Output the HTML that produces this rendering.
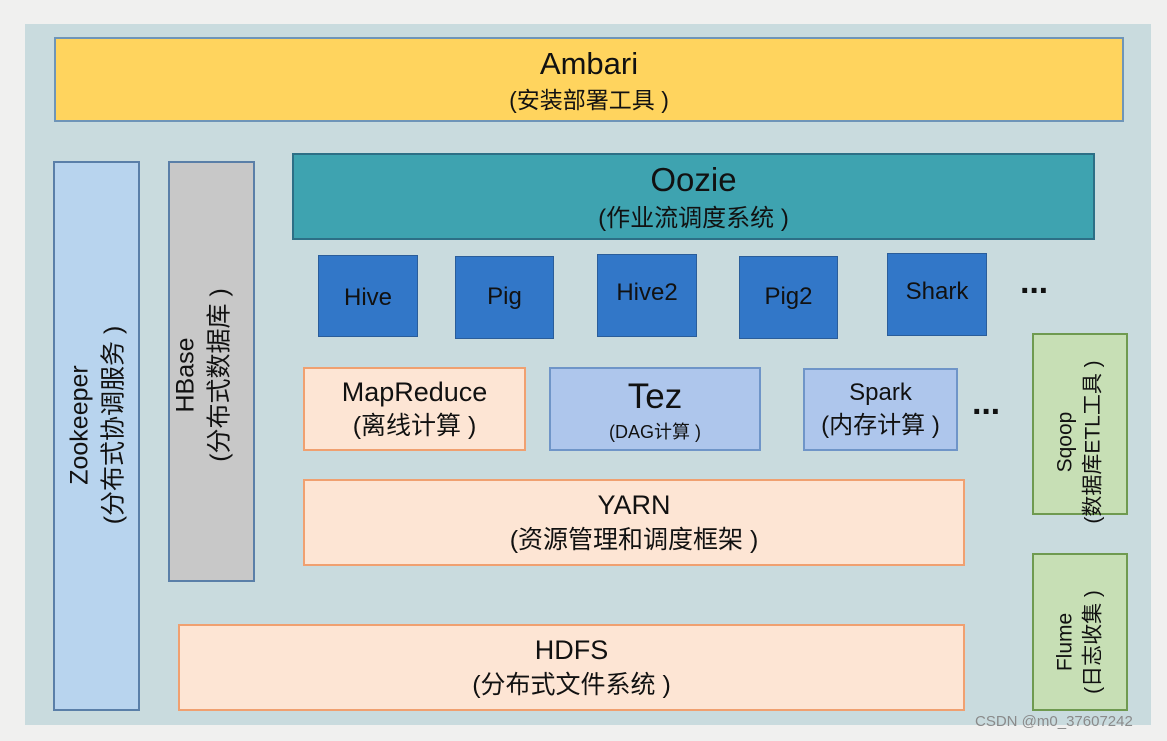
<!DOCTYPE html>
<html><head><meta charset="utf-8"><style>
body{margin:0;width:1167px;height:741px;background:#f0f0ef;position:relative;overflow:hidden;font-family:"Liberation Sans","Noto Sans CJK SC",sans-serif;color:#111}
.b{position:absolute;box-sizing:border-box;display:flex;flex-direction:column;align-items:center;justify-content:center;text-align:center;line-height:1.35}
.v{position:absolute;white-space:nowrap;transform:translate(-50%,-50%) rotate(-90deg);text-align:center;line-height:1.35}
.blue{background:#3277c8;border:1.5px solid #2a5d9a;font-size:24px;color:#111}
.pe{background:#fde5d4;border:2px solid #f0a070}
.lb{background:#aec6ec;border:2px solid #6f95c8}
.gr{background:#c7dfb5;border:2px solid #6f9a50}
.dots{position:absolute;font-size:34px;font-weight:bold;letter-spacing:-2px}
</style></head><body>
<div style="position:absolute;left:25px;top:24px;width:1126px;height:701px;background:#c9dbde"></div>
<div class="b" style="left:54px;top:37px;width:1070px;height:85px;background:#ffd45e;border:2px solid #6f95b8"><div style="font-size:31px">Ambari</div><div style="font-size:23px">(安装部署工具 )</div></div>
<div class="b" style="left:53px;top:161px;width:87px;height:550px;background:#b8d4ee;border:2px solid #5a7fa8"></div>
<div class="v" style="left:97px;top:425px;font-size:25px">Zookeeper<br>(分布式协调服务 )</div>
<div class="b" style="left:168px;top:161px;width:87px;height:421px;background:#c8c8c8;border:2px solid #5a7fa8"></div>
<div class="v" style="left:203px;top:375px;font-size:25px">HBase<br>(分布式数据库 )</div>
<div class="b" style="left:292px;top:153px;width:803px;height:87px;background:#3ea3b0;border:2px solid #2d6f86"><div style="font-size:33px">Oozie</div><div style="font-size:24px">(作业流调度系统 )</div></div>
<div class="b blue" style="left:318px;top:255px;width:100px;height:82px;padding-top:4px">Hive</div>
<div class="b blue" style="left:455px;top:256px;width:99px;height:83px">Pig</div>
<div class="b blue" style="left:597px;top:254px;width:100px;height:83px;padding-bottom:4px">Hive2</div>
<div class="b blue" style="left:739px;top:256px;width:99px;height:83px">Pig2</div>
<div class="b blue" style="left:887px;top:253px;width:100px;height:83px;padding-bottom:4px">Shark</div>
<div class="dots" style="left:1020px;top:272px">···</div>
<div class="b pe" style="left:303px;top:367px;width:223px;height:84px"><div style="font-size:27px">MapReduce</div><div style="font-size:25px">(离线计算 )</div></div>
<div class="b lb" style="left:549px;top:367px;width:212px;height:84px"><div style="font-size:35px">Tez</div><div style="font-size:18px">(DAG计算 )</div></div>
<div class="b lb" style="left:803px;top:368px;width:155px;height:83px"><div style="font-size:24px">Spark</div><div style="font-size:24px">(内存计算 )</div></div>
<div class="dots" style="left:972px;top:393px">···</div>
<div class="b pe" style="left:303px;top:479px;width:662px;height:87px"><div style="font-size:27px">YARN</div><div style="font-size:25px">(资源管理和调度框架 )</div></div>
<div class="b pe" style="left:178px;top:624px;width:787px;height:87px"><div style="font-size:27px">HDFS</div><div style="font-size:25px">(分布式文件系统 )</div></div>
<div class="b gr" style="left:1032px;top:333px;width:96px;height:182px"></div>
<div class="v" style="left:1080px;top:442px;font-size:21px">Sqoop<br>(数据库ETL工具 )</div>
<div class="b gr" style="left:1032px;top:553px;width:96px;height:158px"></div>
<div class="v" style="left:1080px;top:642px;font-size:21px">Flume<br>(日志收集 )</div>
<div style="position:absolute;left:975px;top:713px;font-size:15px;color:#8a8a8a">CSDN @m0_37607242</div>
</body></html>
